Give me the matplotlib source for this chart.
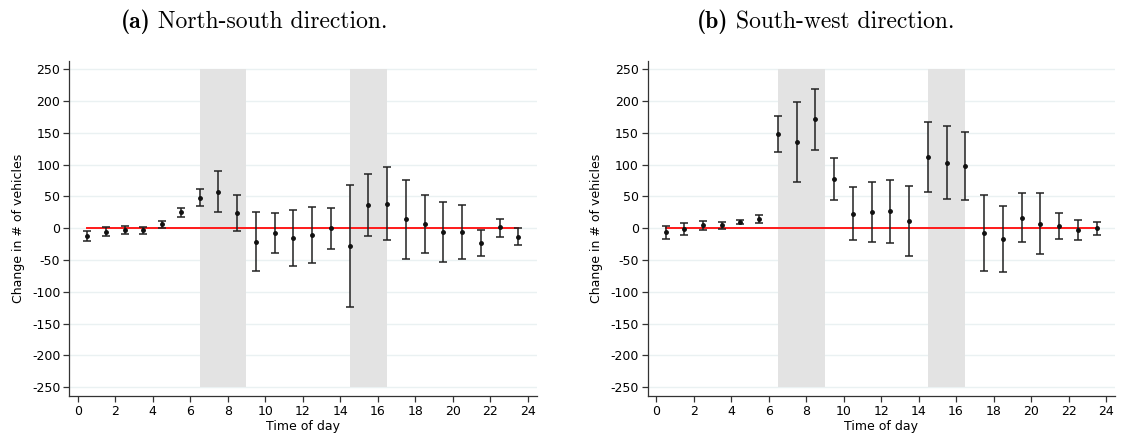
import numpy as np
import matplotlib
matplotlib.use("Agg")
import matplotlib.pyplot as plt

hours = np.arange(0.5, 24, 1.0)

# panel (a): north-south
ns_est = [-11.5, -5.2, -2.1, -2.6, 6.3, 25.2, 48.2, 57.7, 24.1, -21.0, -7.3, -15.2,
          -10.5, 0.0, -27.3, 36.7, 38.8, 14.2, 7.3, -5.8, -5.8, -23.0, 1.6, -13.1]
ns_hi = [-4.2, 1.6, 3.7, 2.6, 11.5, 31.4, 61.3, 90.1, 52.4, 25.2, 24.1, 28.8,
         33.5, 31.0, 68.7, 85.4, 97.0, 76.0, 52.9, 41.9, 37.2, -2.1, 14.7, 0.5]
ns_lo = [-19.4, -12.0, -8.4, -8.4, 1.0, 18.3, 34.6, 25.2, -4.7, -66.6, -39.8, -59.7,
         -54.5, -32.0, -123.7, -12.0, -18.9, -47.7, -38.8, -53.5, -48.7, -44.5, -13.1, -26.2]

# panel (b): south-west
sw_est = [-6.3, -1.6, 5.2, 5.2, 10.0, 15.2, 148.8, 135.7, 171.4, 77.6, 23.0, 25.2,
          26.7, 11.5, 111.6, 103.2, 98.0, -7.3, -16.8, 16.8, 7.3, 3.7, -2.6, 0.0]
sw_hi = [4.2, 8.4, 11.5, 10.5, 13.1, 21.0, 176.6, 198.6, 219.6, 110.6, 65.0, 72.3,
         76.5, 66.0, 166.7, 160.9, 151.5, 52.9, 35.1, 55.6, 55.6, 23.6, 13.6, 10.0]
sw_lo = [-17.3, -10.5, -2.1, -1.0, 6.3, 8.4, 120.5, 72.3, 123.7, 44.0, -18.9, -22.0,
         -23.0, -43.5, 57.1, 46.1, 44.0, -68.1, -69.2, -22.0, -40.9, -16.8, -18.9, -10.0]

peaks = [(6.5, 9.0), (14.5, 16.5)]
yticks = np.arange(-250, 251, 50)
xticks = np.arange(0, 25, 2)

plt.rcParams['font.family'] = ['DejaVu Sans']

fig = plt.figure(figsize=(11.21, 4.37), dpi=100)
W, H = 1121, 437


def panel(left, right, est, lo, hi):
    ax = fig.add_axes([left / W, 1 - 395.7 / H, (right - left) / W, (395.7 - 60.7) / H])
    for a, b in peaks:
        ax.fill_between([a, b], -250, 250, color='#e3e3e3', lw=0, zorder=1)
    for y in yticks:
        ax.axhline(y, color='#eaf1f2', lw=1.0, zorder=0)
    ax.plot([hours[0], hours[-1]], [0, 0], color='#ff1a1a', lw=1.4, zorder=2)
    est = np.array(est)
    err = [est - np.array(lo), np.array(hi) - est]
    ax.errorbar(hours, est, yerr=err, fmt='o', ms=2.5, color='#111111',
                ecolor='#222222', elinewidth=1.1, capsize=3.0, capthick=1.1, zorder=3)
    ax.set_xlim(-0.45, 24.48)
    ax.set_ylim(-263.5, 263.5)
    ax.set_xticks(xticks)
    ax.set_yticks(yticks)
    ax.set_yticklabels([str(v) for v in yticks])
    ax.tick_params(labelsize=9, length=4.5, width=0.9, color='#333333', pad=2)
    for s in ['top', 'right']:
        ax.spines[s].set_visible(False)
    for s in ['left', 'bottom']:
        ax.spines[s].set_color('#333333')
        ax.spines[s].set_linewidth(0.9)
    ax.set_xlabel('Time of day', fontsize=9, labelpad=1.5)
    ax.set_ylabel('Change in # of vehicles', fontsize=9, labelpad=5)
    return ax


panel(69.3, 536.7, ns_est, ns_lo, ns_hi)
panel(647.7, 1115.0, sw_est, sw_lo, sw_hi)

fig.canvas.draw()
r = fig.canvas.get_renderer()
for x0, tag, rest in [(120.7, '(a)', ' North-south direction.'),
                      (697.0, '(b)', ' South-west direction.')]:
    t = fig.text(x0 / W, 1 - 28.5 / H, tag, family='cmb10', fontsize=17, va='baseline')
    bb = t.get_window_extent(r)
    fig.text(bb.x1 / W, 1 - 28.5 / H, rest, family='cmr10', fontsize=17, va='baseline')

fig.savefig('out.png', dpi=100)
